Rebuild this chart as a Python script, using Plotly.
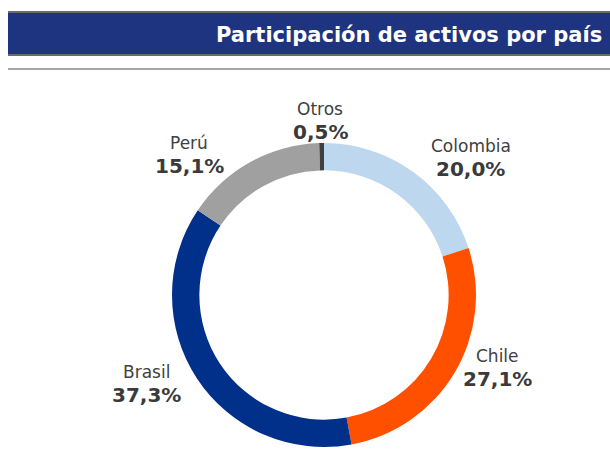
import plotly.graph_objects as go

# ---- data ----
countries = ["Colombia", "Chile", "Brasil", "Perú", "Otros"]
shares = [20.0, 27.1, 37.3, 15.1, 0.5]
colors = ["#BDD7EE", "#FF5000", "#00308A", "#A0A0A0", "#404040"]
title = "Participación de activos por país"

W, H = 610, 457

# label anchor positions (page pixels) for name / percentage
label_pos = {
    "Otros": (320, 109),
    "Colombia": (471, 146),
    "Perú": (189, 143),
    "Chile": (498, 356),
    "Brasil": (146, 372),
}

cx, cy, r = 324, 295, 152

def px(x):
    return x / W

def py(y):
    return 1 - y / H

fig = go.Figure()
fig.add_trace(go.Pie(
    labels=countries,
    values=shares,
    marker=dict(colors=colors, line=dict(width=0)),
    hole=0.82,
    sort=False,
    direction="clockwise",
    rotation=0,
    textinfo="none",
    hoverinfo="label+percent",
    showlegend=False,
    domain=dict(x=[px(cx - r), px(cx + r)], y=[py(cy + r), py(cy - r)]),
))

shapes = [
    # header band
    dict(type="rect", xref="paper", yref="paper", x0=px(8), x1=1, y0=py(55), y1=py(12),
         fillcolor="#1F3480", line=dict(width=0), layer="below"),
    dict(type="line", xref="paper", yref="paper", x0=px(8), x1=1, y0=py(12), y1=py(12),
         line=dict(color="#6B6B6B", width=2)),
    dict(type="line", xref="paper", yref="paper", x0=px(8), x1=1, y0=py(55), y1=py(55),
         line=dict(color="#6B6B6B", width=2)),
    dict(type="line", xref="paper", yref="paper", x0=px(8), x1=1, y0=py(69), y1=py(69),
         line=dict(color="#A6A6A6", width=2)),
]

annotations = [
    dict(text=f"<b>{title}</b>", xref="paper", yref="paper", x=px(604), y=py(35),
         xanchor="right", yanchor="middle", showarrow=False,
         font=dict(family="DejaVu Sans", size=21, color="white")),
]
for name, val in zip(countries, shares):
    lx, ly = label_pos[name]
    pct = f"{val:.1f}".replace(".", ",") + "%"
    annotations.append(dict(text=name, xref="paper", yref="paper", x=px(lx), y=py(ly),
                            xanchor="center", yanchor="middle", showarrow=False,
                            font=dict(family="DejaVu Sans", size=17, color="#404040")))
    annotations.append(dict(text=f"<b>{pct}</b>", xref="paper", yref="paper", x=px(lx), y=py(ly + 23),
                            xanchor="center", yanchor="middle", showarrow=False,
                            font=dict(family="DejaVu Sans", size=20, color="#3A3A3A")))

fig.update_layout(
    width=W, height=H,
    margin=dict(l=0, r=0, t=0, b=0),
    paper_bgcolor="white",
    plot_bgcolor="white",
    shapes=shapes,
    annotations=annotations,
)

fig.write_html(
    "out.html",
    config={"displayModeBar": False},
    post_script="document.body.style.margin='0';document.body.style.overflow='hidden';",
)
